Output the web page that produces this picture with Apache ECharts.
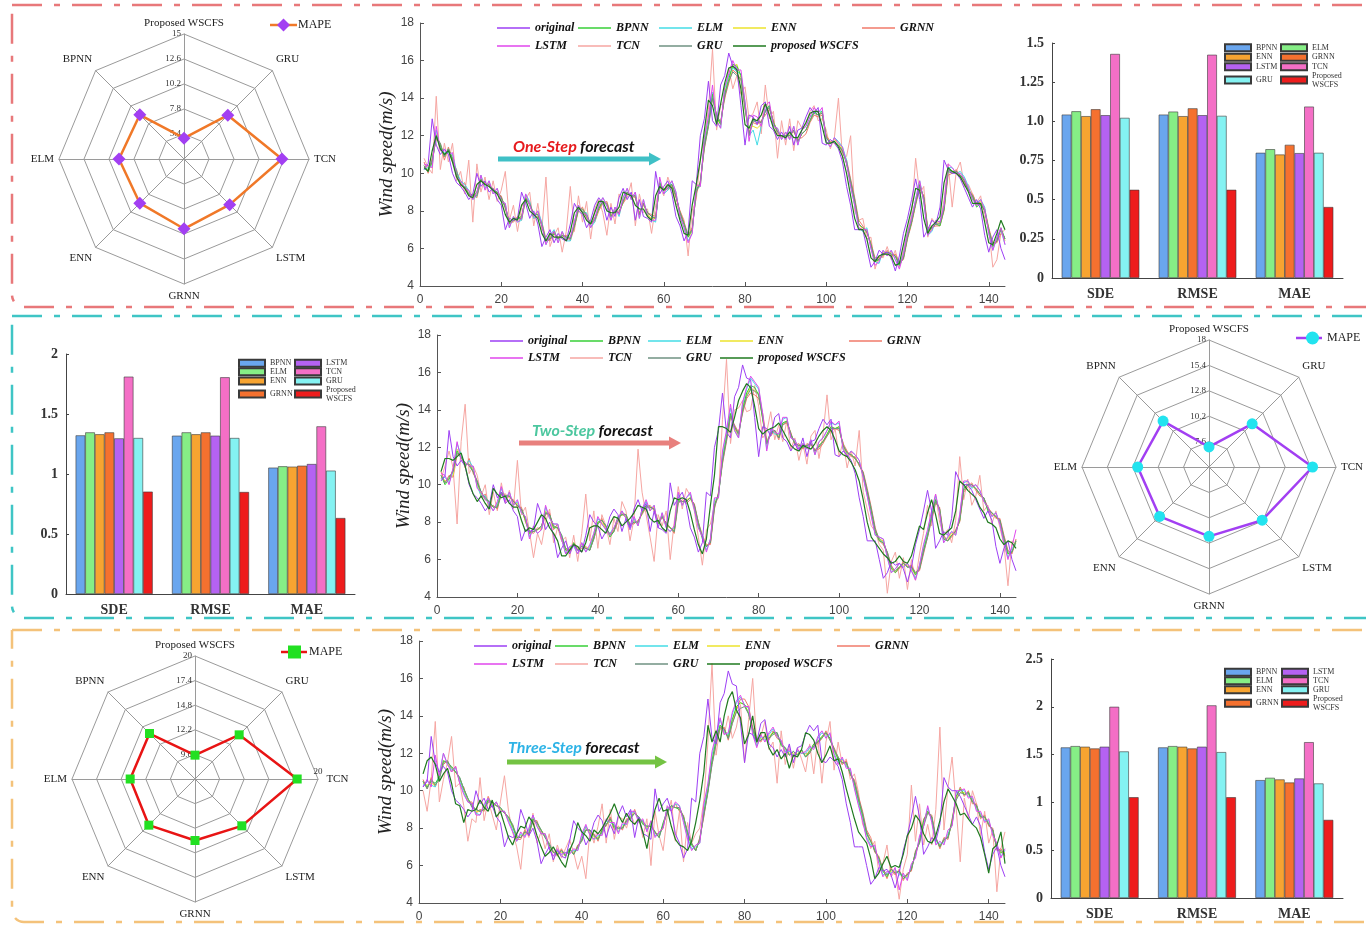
<!DOCTYPE html>
<html>
<head>
<meta charset="utf-8">
<title>Wind speed forecasting comparison</title>
<script src="https://cdn.jsdelivr.net/npm/echarts@6.0.0/dist/echarts.min.js"></script>
<style>
  html, body { margin: 0; padding: 0; background: #ffffff; }
  #main { width: 1366px; height: 925px; }
</style>
</head>
<body>
<div id="main"></div>
<script>
// ---------- model names and metrics ----------
const MODELS = ['BPNN', 'ELM', 'ENN', 'GRNN', 'LSTM', 'TCN', 'GRU', 'Proposed WSCFS'];
const METRICS = ['SDE', 'RMSE', 'MAE'];
const RADAR_AXES = ['Proposed WSCFS', 'BPNN', 'ELM', 'ENN', 'GRNN', 'LSTM', 'TCN', 'GRU'];
const LINE_NAMES = ['original', 'BPNN', 'ELM', 'ENN', 'GRNN', 'LSTM', 'TCN', 'GRU', 'proposed WSCFS'];

// ---------- error metrics (order of MODELS) ----------
const step1SDE  = [1.043, 1.064, 1.033, 1.077, 1.039, 1.430, 1.022, 0.563];
const step1RMSE = [1.043, 1.062, 1.033, 1.083, 1.039, 1.425, 1.035, 0.563];
const step1MAE  = [0.799, 0.822, 0.788, 0.850, 0.797, 1.094, 0.799, 0.453];
const step2SDE  = [1.322, 1.347, 1.331, 1.347, 1.297, 1.811, 1.300, 0.853];
const step2RMSE = [1.319, 1.347, 1.331, 1.347, 1.319, 1.806, 1.300, 0.850];
const step2MAE  = [1.053, 1.064, 1.061, 1.069, 1.083, 1.397, 1.028, 0.633];
const step3SDE  = [1.575, 1.589, 1.582, 1.564, 1.582, 2.000, 1.533, 1.054];
const step3RMSE = [1.575, 1.589, 1.582, 1.564, 1.582, 2.015, 1.526, 1.054];
const step3MAE  = [1.233, 1.257, 1.240, 1.208, 1.250, 1.630, 1.198, 0.817];

// ---------- MAPE (order of RADAR_AXES) ----------
const mapeStep1 = [5.0, 9.0, 9.24, 9.0, 9.7, 9.2, 12.4, 8.95];
const mapeStep2 = [7.05, 11.65, 12.3, 12.15, 12.1, 12.7, 15.6, 11.25];
const mapeStep3 = [9.52, 13.8, 13.85, 13.9, 13.5, 14.0, 17.8, 13.6];

// ---------- wind speed series (m/s), samples 1..144 ----------
const original = [10.2,10.5,12.9,11.5,11.0,11.3,11.0,10.0,9.5,9.3, 9.0,8.6,8.9,10.0,9.3,9.6,9.0,9.2,8.6,8.3, 7.0,7.6,7.5,7.6,9.0,8.4,7.6,8.0,7.3,6.1, 6.6,7.0,6.3,6.8,6.5,6.4,7.3,8.4,8.0,7.8, 7.1,7.5,8.3,8.7,8.4,7.5,8.2,7.7,8.7,9.2, 8.6,9.0,7.5,8.6,7.7,7.6,7.4,10.1,8.9,9.3, 9.6,8.9,7.7,7.2,6.4,6.9,9.6,9.4,12.0,12.9, 14.9,12.8,12.5,14.7,15.2,16.4,15.7,15.6,13.6,11.5, 13.1,13.0,12.6,13.6,13.8,12.5,12.3,11.8,12.2,11.8, 12.5,11.5,12.3,12.4,13.0,13.5,13.2,13.5,11.6,11.5, 11.8,11.6,11.3,10.6,9.3,8.3,7.0,7.0,7.0,6.0, 5.0,5.3,5.9,5.7,5.8,5.5,4.8,5.6,6.8,7.6, 8.6,9.7,8.6,6.6,7.0,7.5,7.3,8.2,10.7,10.2, 10.0,10.0,9.7,9.2,8.7,8.2,8.6,8.1,6.7,5.8, 6.6,7.0,6.0,5.4];

// one-step forecasts
const oneBPNN = [10.4,10.1,10.6,12.0,11.5,10.9,11.3,10.8,9.9,9.4, 9.2,8.9,8.8,9.0,9.7,9.4,9.4,9.1,9.0,8.7, 8.2,7.3,7.5,7.6,7.7,8.7,8.3,7.8,7.8,7.2, 6.4,6.5,6.8,6.5,6.7,6.6,6.6,7.2,8.1,8.0, 7.7,7.3,7.6,8.1,8.5,8.3,7.7,8.0,7.9,8.5, 9.0,8.8,8.8,7.8,8.4,7.9,7.7,7.6,9.5,9.1, 9.3,9.4,8.8,7.9,7.3,6.6,7.0,9.1,9.5,11.5, 12.6,14.2,13.0,12.6,14.2,15.0,15.8,15.7,15.2,13.5, 12.0,12.8,12.8,12.7,13.3,13.6,12.7,12.2,12.0,12.0, 12.0,12.3,11.7,12.1,12.3,12.8,13.3,13.1,13.3,11.9, 11.6,11.7,11.5,11.2,10.5,9.5,8.5,7.3,7.1,6.9, 6.2,5.3,5.4,5.7,5.8,5.7,5.6,5.1,5.5,6.6, 7.4,8.4,9.4,8.7,6.9,7.1,7.3,7.2,8.1,10.2, 10.1,10.1,9.9,9.6,9.1,8.8,8.2,8.4,8.0,7.0, 6.1,6.4,7.1,6.5];
const oneELM = [10.2,10.3,10.4,12.3,11.3,11.1,11.1,11.0,10.1,9.6, 9.4,9.1,8.6,8.8,9.9,9.2,9.6,8.9,9.2,8.5, 8.4,7.1,7.7,7.4,7.5,8.9,8.5,7.6,8.0,7.4, 6.2,6.7,7.0,6.3,6.9,6.4,6.4,7.4,8.3,7.9, 7.9,7.1,7.4,8.3,8.7,8.3,7.5,8.2,7.7,8.7, 9.2,8.6,9.0,7.6,8.6,7.7,7.5,7.4,9.6,8.9, 9.1,9.6,9.0,7.7,7.1,6.4,6.8,9.2,9.3,11.8, 12.9,14.3,12.8,12.4,14.5,15.2,15.6,15.4,15.3,13.8, 12.0,12.3,11.5,12.5,13.4,13.6,12.5,12.4,11.8,12.2, 11.8,12.5,11.5,12.3,12.5,13.0,13.2,13.3,13.3,11.7, 11.4,11.9,11.7,11.4,10.7,9.3,8.3,7.1,6.9,7.1, 6.0,5.3,5.2,5.9,5.6,5.9,5.4,5.1,5.7,6.8, 7.6,8.6,9.6,8.5,6.7,6.9,7.5,7.4,8.3,10.3, 10.3,10.0,10.1,9.8,9.3,8.6,8.4,8.6,8.2,6.8, 5.9,6.6,7.0,6.2];
const oneENN = [10.3,10.2,10.5,12.1,11.5,11.0,11.2,10.8,10.0,9.5, 9.2,9.0,8.7,8.9,9.7,9.3,9.5,9.0,9.0,8.6, 8.3,7.3,7.6,7.6,7.7,8.7,8.4,7.8,7.9,7.3, 6.4,6.6,6.9,6.5,6.8,6.6,6.5,7.2,8.1,8.1, 7.8,7.3,7.5,8.1,8.5,8.4,7.7,8.1,7.8,8.5, 9.0,8.7,8.8,7.8,8.4,7.8,7.6,7.6,9.5,9.1, 9.2,9.4,8.8,7.8,7.3,6.6,6.9,9.2,9.3,11.6, 12.7,14.3,12.9,12.6,14.3,15.0,15.7,15.8,15.1,13.6, 12.4,12.5,12.4,12.6,13.4,13.6,12.7,12.3,11.9,12.1, 11.9,12.3,11.7,12.1,12.3,12.8,13.3,13.1,13.2,11.9, 11.6,11.8,11.6,11.3,10.6,9.5,8.5,7.3,7.0,7.0, 6.2,5.3,5.4,5.8,5.7,5.8,5.6,5.1,5.6,6.6, 7.4,8.4,9.4,8.6,6.9,7.0,7.4,7.3,8.1,10.2, 10.1,10.1,9.9,9.7,9.2,8.7,8.3,8.5,8.1,7.0, 6.1,6.5,7.0,6.4];
const oneGRNN = [10.6,10.0,10.8,11.8,11.6,10.7,11.4,10.6,10.2,9.3, 9.5,8.8,8.9,8.7,9.6,9.5,9.3,9.2,8.9,8.8, 8.1,7.4,7.4,7.7,7.5,8.6,8.5,7.6,7.7,7.4, 6.5,6.4,6.8,6.6,6.6,6.7,6.4,7.1,8.0,8.2, 7.6,7.4,7.4,8.0,8.4,8.5,7.8,7.9,8.0,8.4, 8.9,8.8,8.7,7.9,8.3,7.9,7.8,7.7,9.3,9.2, 9.1,9.3,8.7,8.0,7.4,6.7,7.1,8.9,9.6,11.3, 12.5,14.0,13.1,12.7,14.0,14.8,15.5,15.3,15.0,13.4, 12.2,12.7,12.6,12.8,13.1,13.4,12.8,12.1,12.0,11.9, 12.1,12.2,11.8,11.9,12.1,12.7,13.1,13.0,13.1,12.0, 11.7,11.6,11.5,11.1,10.7,9.7,8.7,7.5,7.2,6.8, 6.3,5.5,5.5,5.6,5.9,5.6,5.7,5.3,5.4,6.5, 7.3,8.3,9.2,8.8,7.1,7.1,7.2,7.2,8.0,9.9, 10.0,10.2,9.8,9.5,9.1,8.9,8.4,8.3,8.1,7.1, 6.3,6.3,6.8,6.6];
const oneLSTM = [10.5,10.4,10.3,12.5,11.2,11.2,11.0,11.1,9.8,9.6, 9.2,9.1,8.6,9.0,9.9,9.1,9.6,8.9,9.2,8.5, 8.4,7.1,7.7,7.4,7.6,8.9,8.3,7.7,8.0,7.2, 6.2,6.7,6.9,6.3,6.9,6.4,6.6,7.4,8.3,7.9, 7.8,7.1,7.6,8.3,8.7,8.3,7.5,8.2,7.8,8.7, 9.2,8.6,9.0,7.6,8.6,7.7,7.5,7.5,9.8,8.9, 9.3,9.6,9.0,7.7,7.1,6.3,6.8,9.4,9.3,11.9, 13.0,14.7,12.8,12.4,14.6,15.3,16.0,15.5,15.5,13.8, 11.7,13.1,13.0,12.5,13.6,13.8,12.5,12.4,11.8,12.2, 11.8,12.5,11.5,12.3,12.5,13.0,13.5,13.2,13.5,11.7, 11.4,11.9,11.6,11.4,10.5,9.3,8.3,7.1,7.0,7.0, 6.0,5.1,5.3,5.9,5.6,5.9,5.4,4.9,5.7,6.8, 7.6,8.6,9.6,8.5,6.7,7.0,7.5,7.4,8.3,10.5, 10.3,10.0,10.0,9.7,9.2,8.6,8.3,8.6,8.1,6.8, 5.9,6.6,7.1,6.2];
const oneTCN = [10.8,10.3,10.0,14.1,10.2,11.6,10.6,11.6,9.6,10.1, 8.9,10.7,7.4,10.5,9.0,9.8,8.6,9.6,8.5,9.1, 10.1,7.5,8.3,6.9,8.2,8.6,9.0,7.2,8.4,7.0, 9.8,6.1,6.7,7.1,5.8,6.9,9.3,6.9,8.8,7.4, 8.5,6.5,8.1,8.6,7.9,6.7,8.4,7.3,8.9,8.4, 8.7,9.5,7.2,8.9,7.9,8.1,6.8,8.3,9.3,8.8, 9.8,9.2,8.4,8.0,7.5,5.6,8.0,8.6,10.8,11.9, 13.4,16.6,12.3,13.6,13.9,15.6,14.5,15.2,14.2,14.6, 12.9,13.2,13.8,12.1,14.7,12.9,13.3,10.8,12.8,11.5, 12.9,11.2,12.8,12.4,12.6,13.3,13.6,12.8,12.9,12.3, 11.3,11.9,14.0,10.8,10.9,12.0,8.0,7.5,7.6,6.5, 6.6,4.9,5.6,5.5,6.1,5.4,5.9,5.0,5.9,6.9, 7.8,10.8,8.9,9.3,6.6,7.6,7.3,7.4,8.6,10.5, 8.2,10.1,10.6,9.3,9.4,8.9,8.4,8.8,7.6,7.1, 5.0,5.4,6.8,7.0];
const oneGRU = [10.4,10.1,10.7,11.9,11.6,10.9,11.3,10.7,10.1,9.4, 9.3,8.9,8.8,8.8,9.6,9.4,9.4,9.1,9.0,8.7, 8.2,7.4,7.5,7.6,7.6,8.6,8.4,7.8,7.8,7.3, 6.4,6.5,6.9,6.5,6.7,6.6,6.5,7.2,8.1,8.1, 7.8,7.3,7.5,8.2,8.5,8.4,7.7,8.0,7.9,8.5, 9.0,8.8,8.8,7.8,8.4,7.9,7.7,7.6,9.4,9.1, 9.2,9.4,8.8,7.9,7.3,6.7,7.0,9.0,9.5,11.4, 12.5,14.0,13.1,12.7,14.1,14.9,15.4,15.2,15.0,13.6, 12.1,12.8,12.7,12.7,13.3,13.5,12.7,12.2,12.0,12.0, 12.0,12.3,11.7,12.1,12.3,12.8,13.2,13.1,13.2,11.9, 11.6,11.7,11.5,11.2,10.6,9.6,8.6,7.3,7.1,6.9, 6.2,5.4,5.4,5.7,5.8,5.7,5.6,5.2,5.5,6.6, 7.4,8.4,9.3,8.7,7.0,7.1,7.3,7.3,8.1,10.1, 10.0,10.1,9.9,9.6,9.1,8.8,8.3,8.4,8.0,7.0, 6.2,6.4,7.0,6.5];
const oneWSCFS = [10.3,10.1,11.2,12.0,11.3,11.0,11.2,10.6,9.8,9.4, 9.2,8.8,8.7,9.4,9.6,9.4,9.3,9.1,8.9,8.5, 7.8,7.4,7.6,7.5,8.3,8.6,8.0,7.8,7.6,6.8, 6.4,6.8,6.6,6.6,6.6,6.4,6.9,7.9,8.2,7.9, 7.5,7.3,7.9,8.5,8.5,8.0,7.9,7.9,8.2,9.0, 8.9,8.8,8.3,8.1,8.1,7.7,7.5,8.8,9.3,9.1, 9.4,9.2,8.3,7.5,6.8,6.7,8.3,9.4,10.7,12.3, 13.9,13.6,12.6,13.7,14.8,15.6,15.7,15.5,14.5,12.6, 12.4,12.9,12.8,13.1,13.7,13.1,12.4,12.0,12.0,11.9, 12.2,11.9,11.9,12.3,12.7,13.2,13.3,13.3,12.5,11.6, 11.6,11.7,11.4,10.9,10.0,8.8,7.6,7.0,7.0,6.5, 5.5,5.3,5.6,5.7,5.7,5.6,5.1,5.2,6.2,7.2, 8.1,9.2,9.1,7.6,6.8,7.2,7.4,7.7,9.5,10.3, 10.1,10.0,9.8,9.4,9.0,8.4,8.4,8.4,7.4,6.3, 6.2,6.8,7.5,7.0];

// two-step forecasts
const twoBPNN = [10.5,10.0,10.3,10.8,11.8,11.4,11.2,11.0,10.7,10.1, 9.6,9.2,9.1,8.8,8.8,9.6,9.4,9.4,9.1,8.9, 8.7,8.1,7.4,7.5,7.6,7.8,8.5,8.4,7.7,7.7, 7.3,6.5,6.5,6.9,6.5,6.7,6.6,6.5,7.2,8.0, 8.1,7.8,7.2,7.5,8.3,8.4,8.4,7.8,8.0,8.0, 8.5,8.9,8.8,8.7,7.9,8.3,7.9,7.7,7.5,9.2, 9.1,9.1,9.3,8.9,7.9,7.1,6.7,6.9,8.9,9.5, 11.3,12.5,13.8,13.1,12.7,14.0,14.9,15.3,15.2,14.8, 13.5,12.2,12.8,12.9,12.5,13.3,13.4,12.7,12.2,12.1, 12.0,12.1,12.2,11.8,12.1,12.3,12.7,13.1,13.0,13.1, 12.1,11.7,11.6,11.4,11.1,10.6,9.6,8.6,7.5,7.0, 6.9,6.3,5.5,5.3,5.6,5.8,5.6,5.6,5.2,5.5, 6.5,7.3,8.3,9.2,8.7,7.1,7.0,7.3,7.5,8.1, 9.8,10.0,10.0,9.8,9.5,9.3,8.6,8.5,8.3,8.1, 7.1,6.3,6.4,7.0];
const twoELM = [10.3,10.4,10.1,10.7,12.2,11.6,11.0,11.3,10.9,9.9, 9.4,9.4,8.9,8.6,9.0,9.8,9.2,9.6,8.9,9.1, 8.5,8.3,7.2,7.7,7.4,7.6,8.8,8.2,7.9,7.9, 7.1,6.3,6.7,6.7,6.3,6.9,6.4,6.7,7.4,8.2, 7.9,7.6,7.4,7.7,8.1,8.6,8.2,7.6,8.2,7.8, 8.7,9.1,8.6,8.9,7.7,8.5,7.7,7.5,7.7,9.5, 8.9,9.3,9.5,8.7,7.7,7.3,6.5,7.1,9.2,9.3, 11.6,12.8,14.1,12.9,12.5,14.3,15.1,15.7,15.4,15.1, 13.7,11.9,13.0,12.7,12.7,13.5,13.6,12.5,12.4,11.9, 12.2,11.9,12.4,11.6,12.3,12.5,12.9,13.3,13.2,13.3, 11.9,11.5,11.8,11.6,11.3,10.4,9.4,8.4,7.3,7.2, 7.1,6.1,5.3,5.5,5.8,5.6,5.8,5.4,5.0,5.7, 6.7,7.5,8.5,9.4,8.5,6.9,7.2,7.5,7.3,8.3, 10.1,10.2,9.8,10.0,9.7,9.1,8.8,8.3,8.5,7.9, 6.9,6.1,6.6,6.8];
const twoENN = [10.4,10.2,10.3,10.5,11.9,11.5,11.1,11.1,10.8,10.0, 9.5,9.3,9.0,8.8,8.9,9.6,9.3,9.4,9.0,9.0, 8.6,8.1,7.4,7.6,7.6,7.7,8.6,8.3,7.8,7.7, 7.2,6.5,6.6,6.8,6.5,6.8,6.6,6.6,7.3,8.0, 8.0,7.7,7.3,7.6,8.2,8.4,8.3,7.8,8.1,7.9, 8.5,8.9,8.7,8.8,7.9,8.4,7.8,7.7,7.6,9.3, 9.0,9.2,9.3,8.8,7.9,7.2,6.7,7.0,9.0,9.4, 11.4,12.6,13.8,13.0,12.6,14.1,14.8,15.2,15.0,14.9, 13.5,12.1,12.8,12.8,12.6,13.3,13.4,12.6,12.3,12.0, 12.0,12.0,12.2,11.7,12.1,12.3,12.7,13.1,13.0,13.1, 12.0,11.6,11.6,11.4,11.1,10.5,9.6,8.6,7.5,7.1, 7.0,6.3,5.5,5.4,5.6,5.7,5.7,5.5,5.2,5.6, 6.5,7.3,8.3,9.2,8.6,7.1,7.1,7.4,7.4,8.1, 9.8,10.0,9.9,9.8,9.5,9.2,8.7,8.4,8.3,8.0, 7.1,6.3,6.4,6.9];
const twoGRNN = [10.7,10.1,10.5,10.4,11.6,11.6,10.9,11.4,10.6,10.2, 9.3,9.5,8.8,8.9,8.7,9.5,9.5,9.3,9.2,8.8, 8.8,8.0,7.5,7.4,7.7,7.6,8.4,8.5,7.6,7.9, 7.0,6.6,6.4,6.9,6.6,6.6,6.7,6.5,7.1,7.9, 8.2,7.6,7.4,7.5,8.0,8.5,8.4,7.9,7.9,8.1, 8.4,8.8,8.9,8.6,8.0,8.2,8.0,7.7,7.4,9.0, 9.2,9.0,9.2,9.0,8.0,7.3,6.8,6.8,8.7,9.6, 11.1,12.3,13.6,13.2,12.8,13.8,14.6,14.9,14.8,14.6, 13.8,12.4,12.6,12.9,12.4,13.2,13.3,12.8,12.1,12.2, 11.9,12.2,12.1,11.9,11.9,12.2,12.6,12.9,13.0,12.9, 12.2,11.8,11.5,11.5,11.0,10.7,9.8,8.8,7.7,7.0, 6.8,6.4,5.7,5.3,5.5,5.9,5.6,5.7,5.3,5.4, 6.3,7.2,8.1,9.0,8.8,7.3,7.0,7.2,7.6,8.0, 9.6,9.9,10.1,9.7,9.4,9.3,8.8,8.5,8.2,8.2, 7.3,6.5,6.3,7.1];
const twoLSTM = [10.6,10.5,10.0,10.9,12.3,11.3,11.2,11.0,11.0,9.8, 9.6,9.2,9.0,8.6,9.1,9.9,9.1,9.6,8.9,9.2, 8.5,8.3,7.1,7.8,7.4,7.6,8.9,8.2,7.9,7.9, 7.1,6.3,6.7,6.8,6.3,6.9,6.4,6.8,7.4,8.3, 7.9,7.6,7.3,7.7,8.2,8.6,8.2,7.6,8.3,7.8, 8.7,9.2,8.6,8.9,7.7,8.5,7.7,7.5,7.8,9.6, 8.9,9.3,9.6,8.7,7.7,7.2,6.4,7.1,9.3,9.3, 11.8,12.9,14.3,12.9,12.5,14.4,15.2,15.8,15.5,15.2, 13.8,11.8,13.0,12.8,12.7,13.6,13.6,12.5,12.4,11.9, 12.2,11.9,12.4,11.6,12.3,12.5,12.9,13.4,13.2,13.4, 11.9,11.5,11.8,11.6,11.3,10.4,9.4,8.3,7.3,7.2, 7.1,6.1,5.3,5.5,5.8,5.6,5.8,5.4,4.9,5.7, 6.8,7.6,8.6,9.5,8.5,6.9,7.2,7.5,7.3,8.4, 10.2,10.2,9.9,10.0,9.7,9.1,8.8,8.3,8.5,7.9, 6.9,6.0,6.7,7.6];
const twoTCN = [10.3,11.0,11.8,10.9,7.9,12.3,14.3,10.6,11.0,10.5, 9.4,10.0,8.4,9.6,8.6,10.1,9.0,9.7,8.7,11.3, 8.4,8.8,7.5,6.1,7.4,6.8,8.0,8.7,6.9,7.7, 7.0,7.2,6.1,7.3,5.9,7.4,9.5,7.0,8.6,6.6, 8.4,7.8,6.8,8.2,7.5,9.1,8.6,7.0,8.2,11.9, 9.6,8.4,7.2,5.9,8.4,7.8,8.6,6.0,8.0,9.9, 8.7,9.8,9.4,8.6,7.2,5.7,7.6,7.9,8.9,9.3, 13.5,16.7,12.2,14.0,14.1,14.5,13.9,14.0,15.3,14.2, 12.5,12.8,13.9,12.4,13.2,12.3,13.4,11.9,12.5,11.3, 12.2,11.1,12.6,12.9,11.4,12.7,14.8,12.4,13.0,11.5, 12.3,10.9,11.8,11.0,12.9,9.6,8.7,7.8,7.5,6.8, 6.5,4.2,5.9,6.4,5.0,6.1,4.4,6.0,4.9,6.3, 7.4,8.9,7.8,9.5,8.0,7.3,7.6,6.9,8.1,11.5, 9.2,10.3,8.9,9.4,10.5,8.6,8.9,7.9,8.6,7.7, 6.8,4.6,7.0,6.8];
const twoGRU = [10.5,10.1,10.4,10.7,11.7,11.5,11.1,11.1,10.7,10.2, 9.6,9.3,9.1,8.8,8.8,9.5,9.4,9.4,9.1,8.9, 8.7,8.2,7.5,7.5,7.6,7.8,8.5,8.4,7.8,7.7, 7.3,6.6,6.5,6.8,6.5,6.7,6.6,6.5,7.1,7.9, 8.1,7.8,7.3,7.5,8.2,8.4,8.4,7.8,8.0,8.0, 8.5,8.8,8.8,8.7,8.0,8.3,7.9,7.7,7.5,9.1, 9.1,9.1,9.3,8.9,8.0,7.2,6.7,6.9,8.8,9.5, 11.2,12.4,13.7,13.1,12.7,13.9,14.7,15.1,15.0,14.8, 13.6,12.2,12.7,12.9,12.5,13.2,13.4,12.7,12.2,12.1, 12.0,12.1,12.2,11.8,12.0,12.3,12.6,13.0,13.0,13.0, 12.1,11.7,11.6,11.4,11.1,10.6,9.7,8.7,7.6,7.1, 6.9,6.4,5.6,5.4,5.6,5.8,5.6,5.6,5.3,5.5, 6.4,7.2,8.2,9.1,8.7,7.2,7.0,7.3,7.5,8.1, 9.7,10.0,10.0,9.8,9.5,9.3,8.7,8.5,8.3,8.1, 7.2,6.4,6.4,7.0];
const twoWSCFS = [10.7,11.4,11.4,11.3,11.5,11.7,11.0,10.1,9.5,9.1, 9.4,9.0,8.7,9.8,9.5,9.3,9.4,9.0,8.8,8.8, 8.1,7.5,7.7,7.6,8.0,8.4,8.2,7.7,7.4,7.0, 6.2,6.2,6.5,6.8,6.7,6.4,6.9,7.7,7.8,7.8, 7.6,7.4,7.9,8.3,8.2,7.8,8.0,8.2,8.5,8.9, 8.8,8.7,8.2,8.0,8.1,7.7,7.5,8.6,9.3,9.2, 9.3,9.2,8.5,7.6,6.8,6.3,7.1,8.9,10.5,13.1, 13.1,13.0,12.8,13.6,14.5,15.0,15.4,15.2,14.2,13.0, 12.7,12.9,13.0,13.1,13.3,12.9,12.5,12.1,11.9,11.8, 12.1,12.0,11.9,12.2,12.6,12.9,13.1,12.9,12.4,11.8, 11.6,11.5,11.2,10.8,10.2,9.2,8.0,7.2,6.9,6.6, 6.3,6.1,5.8,5.9,6.2,5.9,5.8,6.2,7.0,7.8, 7.6,8.5,9.2,8.4,7.4,7.3,7.5,7.7,8.6,10.2, 10.0,9.7,9.5,9.3,8.8,8.5,8.0,7.9,7.7,7.1, 6.8,7.0,6.9,6.6];

// three-step forecasts
const threeBPNN = [10.5,10.2,10.5,10.4,10.7,11.6,11.5,11.3,11.0,10.7, 10.1,9.6,9.2,9.0,8.9,9.0,9.5,9.4,9.2,9.1, 8.8,8.6,8.1,7.5,7.5,7.8,7.7,8.5,8.3,7.9, 7.5,7.1,6.7,6.6,6.8,6.5,6.9,6.6,7.0,7.4, 7.9,7.9,7.6,7.4,7.9,8.2,8.5,8.0,8.0,8.0, 8.4,8.6,8.8,8.6,8.2,8.1,8.1,7.8,7.5,8.3, 8.9,9.2,9.1,9.0,8.6,7.7,7.1,6.8,7.4,8.8, 10.0,11.6,12.7,13.5,13.3,12.8,13.8,14.5,14.7,14.6, 14.1,13.3,12.6,12.7,12.9,12.8,13.1,13.1,12.4,12.3, 11.9,12.1,11.9,12.2,11.8,12.1,12.5,12.6,12.9,13.1, 12.8,12.2,11.7,11.5,11.5,10.9,10.4,9.5,8.7,7.7, 7.3,6.8,6.4,5.7,5.4,5.8,5.6,5.7,5.3,5.5, 5.8,6.7,7.3,8.4,8.9,8.6,7.4,7.0,7.4,7.5, 8.4,9.7,10.1,9.8,9.9,9.4,9.2,8.6,8.6,8.2, 7.9,6.9,6.7,6.6];
const threeELM = [10.3,10.5,10.3,10.2,10.9,12.0,11.4,11.1,11.2,10.5, 9.9,9.4,9.3,8.8,8.7,9.2,9.6,9.2,9.4,8.9, 8.9,8.4,7.9,7.3,7.7,7.6,7.9,8.7,8.1,7.7, 7.7,6.9,6.5,6.8,6.6,6.7,6.7,6.8,6.8,7.6, 8.1,7.7,7.4,7.6,7.7,8.4,8.3,8.2,7.8,8.2, 8.2,8.8,8.9,8.4,8.4,7.9,8.3,7.6,7.7,8.1, 9.1,9.0,9.3,9.2,8.4,7.5,6.9,7.0,7.2,9.1, 10.3,11.9,12.9,13.8,13.1,13.0,14.1,14.7,15.0,14.6, 14.4,13.1,12.4,12.9,12.7,13.0,13.3,12.9,12.6,12.1, 12.1,11.9,12.1,12.0,12.0,12.3,12.3,12.8,13.1,12.9, 13.0,12.0,11.5,11.7,11.3,11.1,10.2,9.3,8.5,7.5, 7.1,7.0,6.2,5.5,5.6,5.6,5.8,5.5,5.5,5.3, 6.0,6.5,7.5,8.2,9.1,8.4,7.2,7.2,7.2,7.7, 8.2,9.9,10.0,10.0,9.7,9.6,9.0,8.8,8.4,8.4, 7.7,7.1,6.5,6.8];
const threeENN = [10.4,10.3,10.4,10.3,10.7,11.6,11.5,11.2,11.0,10.6, 10.0,9.5,9.2,8.9,8.9,9.1,9.5,9.3,9.2,9.0, 8.8,8.5,8.1,7.5,7.6,7.7,7.8,8.5,8.2,7.9, 7.6,7.1,6.7,6.7,6.7,6.6,6.8,6.7,6.9,7.4, 7.9,7.8,7.5,7.5,7.8,8.2,8.4,8.1,7.9,8.1, 8.3,8.6,8.8,8.5,8.3,8.0,8.2,7.8,7.6,8.2, 8.9,9.1,9.1,9.1,8.6,7.7,7.1,6.9,7.3,8.9, 10.1,11.6,12.6,13.5,13.2,12.9,13.8,14.4,14.7,14.6, 14.2,13.2,12.6,12.8,12.8,12.9,13.1,13.0,12.5,12.2, 12.0,12.0,12.0,12.1,11.9,12.1,12.4,12.6,12.9,13.0, 12.8,12.1,11.7,11.6,11.4,11.0,10.4,9.5,8.7,7.7, 7.3,6.9,6.4,5.7,5.5,5.7,5.7,5.6,5.4,5.4, 5.9,6.6,7.3,8.2,8.9,8.5,7.4,7.1,7.3,7.6, 8.2,9.6,9.9,9.9,9.8,9.5,9.1,8.7,8.5,8.3, 7.8,7.0,6.7,6.7];
const threeGRNN = [10.6,10.1,10.7,10.2,10.9,11.4,11.6,11.0,11.3,10.4, 10.2,9.4,9.4,8.8,9.0,8.9,9.7,9.2,9.4,8.9, 8.9,8.4,8.2,7.4,7.4,7.9,7.6,8.4,8.4,7.7, 7.7,7.0,6.8,6.5,6.9,6.5,6.9,6.6,7.1,7.3, 8.1,7.7,7.7,7.3,8.0,8.1,8.6,7.9,8.1,7.9, 8.5,8.5,9.0,8.4,8.4,7.9,8.3,7.7,7.7,8.0, 9.1,8.9,9.3,8.9,8.7,7.6,7.2,6.8,7.5,8.6, 10.0,11.4,12.5,13.3,13.4,12.7,13.6,14.3,14.9,14.9, 14.5,13.4,12.8,12.6,13.0,12.7,13.2,12.8,12.6,12.1, 12.1,11.9,12.1,12.0,12.0,12.0,12.5,12.5,12.8,13.2, 12.7,12.3,11.8,11.4,11.6,10.8,10.6,9.7,8.9,7.9, 7.5,6.7,6.5,5.8,5.3,5.9,5.5,5.8,5.2,5.6, 5.7,6.8,7.2,8.5,8.8,8.7,7.5,6.9,7.5,7.4, 8.5,9.6,10.2,9.7,10.0,9.3,9.3,8.5,8.7,8.1, 8.0,6.8,6.9,6.5];
const threeLSTM = [10.2,10.6,10.2,11.9,10.8,12.0,11.4,11.0,11.3,10.4, 9.8,9.4,9.3,8.7,8.7,9.3,9.6,9.1,9.4,8.9, 8.9,8.3,7.8,7.3,7.8,7.5,8.0,8.7,8.1,7.7, 7.7,6.9,6.5,6.9,6.6,6.7,6.6,6.9,6.8,7.7, 8.2,7.6,7.4,7.7,7.6,8.5,8.3,8.3,7.7,8.3, 8.2,8.9,8.9,8.3,8.5,7.8,8.4,7.5,7.8,8.0, 9.2,8.9,9.4,9.2,8.3,7.4,6.8,7.1,7.2,9.3, 10.4,12.1,13.0,13.9,13.0,13.1,14.2,14.8,15.1,14.5, 14.5,13.0,12.3,13.0,12.6,13.1,13.4,12.9,12.7,12.0, 12.2,11.8,12.2,12.0,12.1,12.4,12.2,12.9,13.2,12.8, 13.1,11.9,11.4,11.8,11.2,11.2,10.1,9.2,8.4,7.4, 7.0,7.1,6.1,5.4,5.7,5.5,5.9,4.7,5.6,5.2, 6.1,6.4,7.6,8.1,9.2,8.3,7.1,7.3,7.1,7.9, 8.1,10.0,10.0,10.1,9.6,9.7,8.9,8.9,8.3,8.5, 7.6,7.2,6.4,6.9];
const threeTCN = [10.0,8.9,10.6,13.7,9.4,10.6,11.5,12.9,10.2,10.4, 9.2,7.3,8.5,8.3,10.7,8.4,9.5,8.7,7.9,9.4, 10.8,8.9,7.8,7.0,5.8,8.0,7.5,8.8,7.2,7.8, 6.9,7.7,6.2,7.1,6.4,6.9,7.4,6.7,5.8,6.5, 5.3,7.9,7.2,8.1,9.3,7.2,9.0,7.4,8.6,8.5, 8.0,8.8,8.2,8.6,7.5,8.5,6.0,8.9,7.6,6.8, 8.7,9.5,7.3,8.9,6.2,8.3,7.2,7.7,8.0,9.5, 12.6,16.8,11.9,13.5,13.0,14.0,12.8,13.4,14.6,11.5, 13.8,16.0,12.4,12.9,13.7,12.2,12.6,10.4,13.2,11.4, 12.4,11.2,12.3,11.7,11.0,12.5,10.9,12.8,10.4,12.6, 13.7,11.1,12.6,11.4,11.7,10.6,10.9,9.9,8.2,7.8, 6.9,7.3,5.6,6.1,7.1,5.4,5.7,4.2,5.8,6.6, 10.3,7.3,9.3,7.1,8.2,7.1,9.0,13.4,7.9,10.2, 11.8,9.1,6.2,9.6,8.5,10.0,9.3,7.6,8.9,7.2, 7.9,4.6,6.9,7.8];
const threeGRU = [10.5,10.1,10.6,10.3,10.6,11.5,11.6,11.2,11.0,10.7, 10.1,9.6,9.1,9.0,8.9,9.0,9.4,9.4,9.2,9.1, 8.8,8.6,8.2,7.6,7.5,7.8,7.7,8.4,8.3,7.9, 7.5,7.2,6.7,6.6,6.8,6.6,6.9,6.6,7.0,7.3, 7.9,7.9,7.6,7.4,7.8,8.2,8.5,8.1,8.0,8.0, 8.4,8.5,8.8,8.6,8.3,8.1,8.1,7.8,7.5,8.2, 8.8,9.2,9.1,9.1,8.6,7.8,7.2,6.8,7.4,8.7, 9.9,11.4,12.5,13.4,13.3,12.8,13.6,14.2,14.4,14.5, 14.1,13.3,12.7,12.7,12.9,12.8,13.0,13.1,12.5,12.3, 11.9,12.1,11.9,12.2,11.8,12.0,12.4,12.6,12.8,13.1, 12.7,12.2,11.8,11.5,11.5,10.9,10.5,9.6,8.8,7.8, 7.3,6.8,6.4,5.8,5.5,5.8,5.6,5.7,5.4,5.5, 5.8,6.7,7.2,8.1,8.8,8.6,7.5,7.0,7.4,7.5, 8.3,9.5,9.9,9.8,9.9,9.4,9.2,8.6,8.6,8.2, 7.9,6.9,6.8,6.6];
const threeWSCFS = [10.9,11.6,11.8,11.4,10.5,10.9,11.2,10.4,9.3,9.2, 8.3,9.0,8.9,9.0,9.5,9.1,8.9,9.5,8.6,8.9, 8.2,7.5,7.1,7.7,8.1,8.0,8.6,8.3,7.6,7.0, 6.5,6.7,7.0,6.6,6.2,5.9,6.8,7.3,8.3,7.8, 7.6,7.3,7.9,7.7,8.0,8.4,8.8,9.3,8.7,8.3, 8.8,8.4,8.2,8.5,7.8,6.9,8.1,9.0,9.6,8.9, 9.0,8.1,7.4,7.1,7.0,6.8,7.3,8.3,9.5,11.0, 13.5,12.6,13.2,12.6,14.0,14.9,15.3,14.3,13.9,12.5, 13.0,14.0,12.6,13.1,13.1,12.3,11.9,12.2,11.7,12.0, 11.2,11.9,11.8,12.2,13.1,13.0,12.7,12.0,11.5,11.9, 12.4,11.6,11.7,11.0,10.1,9.3,8.5,7.8,7.5,7.2, 6.4,5.3,5.6,6.1,6.5,5.9,6.0,5.9,6.6,7.6, 8.0,8.7,8.4,7.7,7.3,7.2,7.6,8.4,9.4,10.1, 9.7,9.3,8.7,8.8,8.5,8.2,8.0,7.5,6.6,5.6, 6.9,7.1,7.8,6.1];

// ---------- styling ----------
const SERIF = "'Liberation Serif','DejaVu Serif',serif";
const SANS = "'Liberation Sans','DejaVu Sans',sans-serif";
const BAR_COLORS = ['#6aa6ee', '#86ee86', '#f7a431', '#f5712f', '#b562f2', '#f46fc6', '#84f2f2', '#ee1c1c'];
const LINE_COLORS = ['#9d3ff5', '#37cf37', '#45dde6', '#ece32c', '#f07a6a', '#e046ec', '#f6a6a2', '#6f9282', '#1f7a1f'];
const LINE_DRAW_ORDER = [6, 4, 3, 2, 1, 7, 5, 0, 8];

const lineSets = [
  [original, oneBPNN, oneELM, oneENN, oneGRNN, oneLSTM, oneTCN, oneGRU, oneWSCFS],
  [original, twoBPNN, twoELM, twoENN, twoGRNN, twoLSTM, twoTCN, twoGRU, twoWSCFS],
  [original, threeBPNN, threeELM, threeENN, threeGRNN, threeLSTM, threeTCN, threeGRU, threeWSCFS]
];
const barSets = [
  [step1SDE, step1RMSE, step1MAE],
  [step2SDE, step2RMSE, step2MAE],
  [step3SDE, step3RMSE, step3MAE]
];
const mapeSets = [mapeStep1, mapeStep2, mapeStep3];

// layout of the nine panels
const LINE_GRIDS = [
  { left: 420, top: 23, width: 585, height: 263 },
  { left: 437, top: 335, width: 579, height: 262 },
  { left: 419, top: 641, width: 586, height: 262 }
];
const LINE_NAME_GAP = [22, 24, 22];
const LINE_LEGEND_COLS = [[497, 578, 659, 733, 862], [490, 570, 648, 720, 849], [474, 555, 635, 707, 837]];
const LINE_LEGEND_ROWS = [[28, 46], [341, 358], [646, 664]];

const BAR_GRIDS = [
  { left: 1052, top: 43, width: 291, height: 235 },
  { left: 66, top: 354, width: 289, height: 240 },
  { left: 1051, top: 659, width: 292, height: 239 }
];
const BAR_MAX = [1.5, 2, 2.5];
const BAR_STEP = [0.25, 0.5, 0.5];
const BAR_LEGEND_COLS = [[1224, 1280], [238, 294], [1224, 1281]];
const BAR_LEGEND_ROWS = [[47.7, 57.2, 66.7, 80], [363.3, 371.7, 381, 394], [672.3, 680.7, 689.7, 703.3]];
// [column, row] of each model's key
const BAR_LEGEND_SLOTS = [
  [[0, 0], [1, 0], [0, 1], [1, 1], [0, 2], [1, 2], [0, 3], [1, 3]],
  [[0, 0], [0, 1], [0, 2], [0, 3], [1, 0], [1, 1], [1, 2], [1, 3]],
  [[0, 0], [0, 1], [0, 2], [0, 3], [1, 0], [1, 1], [1, 2], [1, 3]]
];

const RADAR_LAYOUT = [
  { center: [184, 159], radius: 125 },
  { center: [1209, 467], radius: 127 },
  { center: [195, 779], radius: 123 }
];
const RADAR_MIN = [3, 5, 7];
const RADAR_MAX = [15, 18, 20];
// tighter line box for the top axis name
const RADAR_NAME_STYLE = {
  'Proposed WSCFS': { lineHeight: 11 }
};
// diagonal axis names sit a little further out, above or below their vertex
const RADAR_UPPER_NAMES = ['BPNN', 'GRU'];
const RADAR_LOWER_NAMES = ['ENN', 'LSTM'];
const RADAR_STYLE = [
  { line: '#f07828', mark: '#a23ff2', symbol: 'diamond', size: 13 },
  { line: '#a23ff2', mark: '#22e3ef', symbol: 'circle', size: 11 },
  { line: '#e81414', mark: '#22e022', symbol: 'rect', size: 9 }
];
const RADAR_LEGEND = [
  { left: 277, center: 25, x1: 270, x2: 297 },
  { left: 1306, center: 338, x1: 1296, x2: 1322 },
  { left: 288, center: 652, x1: 281, x2: 307 }
];

const PANEL_FRAMES = [
  { y: 5, h: 302, color: '#e8787a' },
  { y: 316, h: 302, color: '#3fc5c5' },
  { y: 630, h: 292, color: '#f4c27a' }
];
const NOTES = [
  { x: 513, y: 147, word: 'One-Step', color: '#e61a1d', ax1: 498, ax2: 661, ay: 159, acolor: '#3fc0c6' },
  { x: 532, y: 431, word: 'Two-Step', color: '#4cc79f', ax1: 519, ax2: 681, ay: 443, acolor: '#e8807d' },
  { x: 508, y: 748, word: 'Three-Step', color: '#2db3e6', ax1: 507, ax2: 667, ay: 762, acolor: '#74c343' }
];

const stripPrefix = n => n.slice(3);

// ---------- option ----------
const option = {
  animation: false,
  backgroundColor: '#ffffff',
  grid: [],
  xAxis: [],
  yAxis: [],
  radar: [],
  legend: [],
  series: [],
  graphic: []
};

// line charts
LINE_GRIDS.forEach((g, k) => {
  option.grid.push(Object.assign({ containLabel: false, outerBoundsMode: 'none' }, g));
  option.xAxis.push({
    type: 'value', gridIndex: k, min: 0, max: 144, interval: 20,
    axisLine: { show: true, lineStyle: { color: '#555', width: 1 } },
    axisTick: { show: true, inside: true, length: 4, lineStyle: { color: '#555' } },
    axisLabel: { color: '#444', fontSize: 12, fontFamily: SANS, margin: 8, showMaxLabel: false },
    splitLine: { show: false }
  });
  option.yAxis.push({
    type: 'value', gridIndex: k, min: 4, max: 18, interval: 2,
    name: 'Wind speed(m/s)', nameLocation: 'middle', nameGap: LINE_NAME_GAP[k],
    nameTextStyle: { fontFamily: SERIF, fontStyle: 'italic', fontSize: 19, color: '#222' },
    axisLine: { show: true, lineStyle: { color: '#555', width: 1 } },
    axisTick: { show: true, inside: true, length: 4, lineStyle: { color: '#555' } },
    axisLabel: { color: '#444', fontSize: 12, fontFamily: SANS, margin: 6 },
    splitLine: { show: false }
  });
  const prefix = 'L' + (k + 1) + ':';
  LINE_DRAW_ORDER.forEach((idx, order) => {
    option.series.push({
      type: 'line', name: prefix + LINE_NAMES[idx], xAxisIndex: k, yAxisIndex: k,
      data: lineSets[k][idx].map((v, i) => [i + 1, v]),
      symbol: 'none', showSymbol: false, silent: true, z: 2 + order * 0.01,
      lineStyle: { width: idx === 8 ? 1.2 : 1, color: LINE_COLORS[idx] },
      itemStyle: { color: LINE_COLORS[idx] },
      emphasis: { disabled: true }
    });
  });
  LINE_NAMES.forEach((n, idx) => {
    const row = idx < 5 ? 0 : 1;
    const col = idx < 5 ? idx : idx - 5;
    option.legend.push({
      data: [{ name: prefix + n, icon: 'rect', itemStyle: { color: LINE_COLORS[idx], borderWidth: 0 } }],
      left: LINE_LEGEND_COLS[k][col], top: LINE_LEGEND_ROWS[k][row] - 7,
      padding: 0, itemWidth: 33, itemHeight: 1.4, selectedMode: false, formatter: stripPrefix,
      textStyle: { fontFamily: SERIF, fontStyle: 'italic', fontWeight: 'bold', fontSize: 12, color: '#111', lineHeight: 14 }
    });
  });
});

// bar charts
BAR_GRIDS.forEach((g, k) => {
  const gi = 3 + k;
  option.grid.push(Object.assign({ containLabel: false, outerBoundsMode: 'none' }, g));
  option.xAxis.push({
    type: 'category', gridIndex: gi, data: METRICS,
    axisLine: { show: true, lineStyle: { color: '#444', width: 1 } },
    axisTick: { show: false },
    axisLabel: { color: '#333', fontSize: 14, fontWeight: 'bold', fontFamily: SERIF, margin: 9 },
    splitLine: { show: false }
  });
  const yLabel = { color: '#333', fontSize: 14, fontWeight: 'bold', fontFamily: SERIF, margin: 8 };
  if (k === 0) yLabel.formatter = v => (v === 1 ? '1.0' : String(v));
  option.yAxis.push({
    type: 'value', gridIndex: gi, min: 0, max: BAR_MAX[k], interval: BAR_STEP[k],
    axisLine: { show: true, lineStyle: { color: '#444', width: 1 } },
    axisTick: { show: true, inside: true, length: 3, lineStyle: { color: '#444' } },
    axisLabel: yLabel,
    splitLine: { show: false }
  });
  const prefix = 'B' + (k + 1) + ':';
  MODELS.forEach((m, i) => {
    option.series.push({
      type: 'bar', name: prefix + m, xAxisIndex: gi, yAxisIndex: gi,
      data: barSets[k].map(metric => metric[i]),
      barGap: '0%', barCategoryGap: '20%', silent: true,
      itemStyle: { color: BAR_COLORS[i], borderColor: '#3a3a3a', borderWidth: 0.6 },
      emphasis: { disabled: true }
    });
    const slot = BAR_LEGEND_SLOTS[k][i];
    const twoLine = m === 'Proposed WSCFS';
    option.legend.push({
      data: [prefix + m], left: BAR_LEGEND_COLS[k][slot[0]],
      top: BAR_LEGEND_ROWS[k][slot[1]] - (twoLine ? 9 : 4.5),
      padding: 0, itemWidth: 26, itemHeight: 7, icon: 'rect', selectedMode: false,
      formatter: n => (stripPrefix(n) === 'Proposed WSCFS' ? 'Proposed\nWSCFS' : stripPrefix(n)),
      textStyle: { fontFamily: SERIF, fontSize: 8, color: '#333', lineHeight: 9 }
    });
  });
});

// radar charts
RADAR_LAYOUT.forEach((r, k) => {
  const min = RADAR_MIN[k], max = RADAR_MAX[k];
  option.radar.push({
    center: r.center, radius: r.radius, startAngle: 90, shape: 'polygon', splitNumber: 5,
    axisName: {
      color: '#222', fontSize: 11, fontFamily: SERIF, lineHeight: 15,
      formatter: name => {
        if (RADAR_UPPER_NAMES.indexOf(name) >= 0) return name + '\n ';
        if (RADAR_LOWER_NAMES.indexOf(name) >= 0) return ' \n' + name;
        return name;
      }
    },
    nameGap: 5,
    splitLine: { lineStyle: { color: '#9a9a9a', width: 1 } },
    splitArea: { show: false },
    axisLine: { lineStyle: { color: '#9a9a9a', width: 1 } },
    axisTick: { show: false },
    axisLabel: { show: false, fontSize: 9, color: '#333', fontFamily: SERIF, margin: 3 },
    indicator: RADAR_AXES.map((name, j) => {
      const ind = { name: name, min: min, max: max };
      if (RADAR_NAME_STYLE[name]) ind.nameTextStyle = Object.assign({}, RADAR_NAME_STYLE[name]);
      if (j === 0) {
        ind.axisLabel = { show: true, showMinLabel: false, formatter: v => (+v === min ? '' : String(+(+v).toFixed(1))) };
      } else if (k === 2 && name === 'TCN') {
        ind.axisLabel = { show: true, formatter: v => (+v === max ? String(max) : '') };
      }
      return ind;
    })
  });
  const st = RADAR_STYLE[k];
  const nm = 'R' + (k + 1) + ':MAPE';
  option.series.push({
    type: 'radar', name: nm, radarIndex: k, silent: true, z: 5,
    symbol: st.symbol, symbolSize: st.size,
    lineStyle: { color: st.line, width: 2.5 },
    itemStyle: { color: st.mark },
    data: [{ name: nm, value: mapeSets[k], symbol: st.symbol, symbolSize: st.size,
             lineStyle: { color: st.line, width: 2.5 }, itemStyle: { color: st.mark } }]
  });
  const lg = RADAR_LEGEND[k];
  option.legend.push({
    data: [{ name: nm, icon: st.symbol, itemStyle: { color: st.mark, borderWidth: 0 } }],
    left: lg.left, top: lg.center - 6.5, padding: 0, itemWidth: 13, itemHeight: 13,
    selectedMode: false, formatter: stripPrefix, z: 6,
    textStyle: { fontFamily: SERIF, fontSize: 12, color: '#222', lineHeight: 13, padding: [0, 0, 0, 3] }
  });
  option.graphic.push({
    type: 'line', silent: true, z: 1,
    shape: { x1: lg.x1, y1: lg.center, x2: lg.x2, y2: lg.center },
    style: { stroke: st.line, lineWidth: 2.5 }
  });
});

// dashed panel frames
PANEL_FRAMES.forEach(f => {
  option.graphic.push({
    type: 'rect', silent: true, z: 0,
    shape: { x: 12, y: f.y, width: 1400, height: f.h, r: [0, 0, 0, 12] },
    style: { fill: 'none', stroke: f.color, lineWidth: 2.5, lineDash: [30, 12, 6, 12] }
  });
});

// forecast-horizon notes with arrows
NOTES.forEach(n => {
  option.graphic.push({
    type: 'text', silent: true, z: 10,
    style: {
      x: n.x, y: n.y, verticalAlign: 'middle',
      text: '{a|' + n.word + '} {b|forecast}',
      rich: {
        a: { fill: n.color, color: n.color, fontFamily: 'Lato, sans-serif', fontStyle: 'italic', fontWeight: 'bold', fontSize: 16 },
        b: { fill: '#111', color: '#111', fontFamily: 'Lato, sans-serif', fontStyle: 'italic', fontWeight: 'bold', fontSize: 16 }
      }
    }
  });
  option.graphic.push({
    type: 'line', silent: true, z: 10,
    shape: { x1: n.ax1, y1: n.ay, x2: n.ax2 - 10, y2: n.ay },
    style: { stroke: n.acolor, lineWidth: 5 }
  });
  option.graphic.push({
    type: 'polygon', silent: true, z: 10,
    shape: { points: [[n.ax2 - 12, n.ay - 6.5], [n.ax2, n.ay], [n.ax2 - 12, n.ay + 6.5]] },
    style: { fill: n.acolor }
  });
});

const chart = echarts.init(document.getElementById('main'), null, { renderer: 'canvas', width: 1366, height: 925 });
chart.setOption(option);
</script>
</body>
</html>
